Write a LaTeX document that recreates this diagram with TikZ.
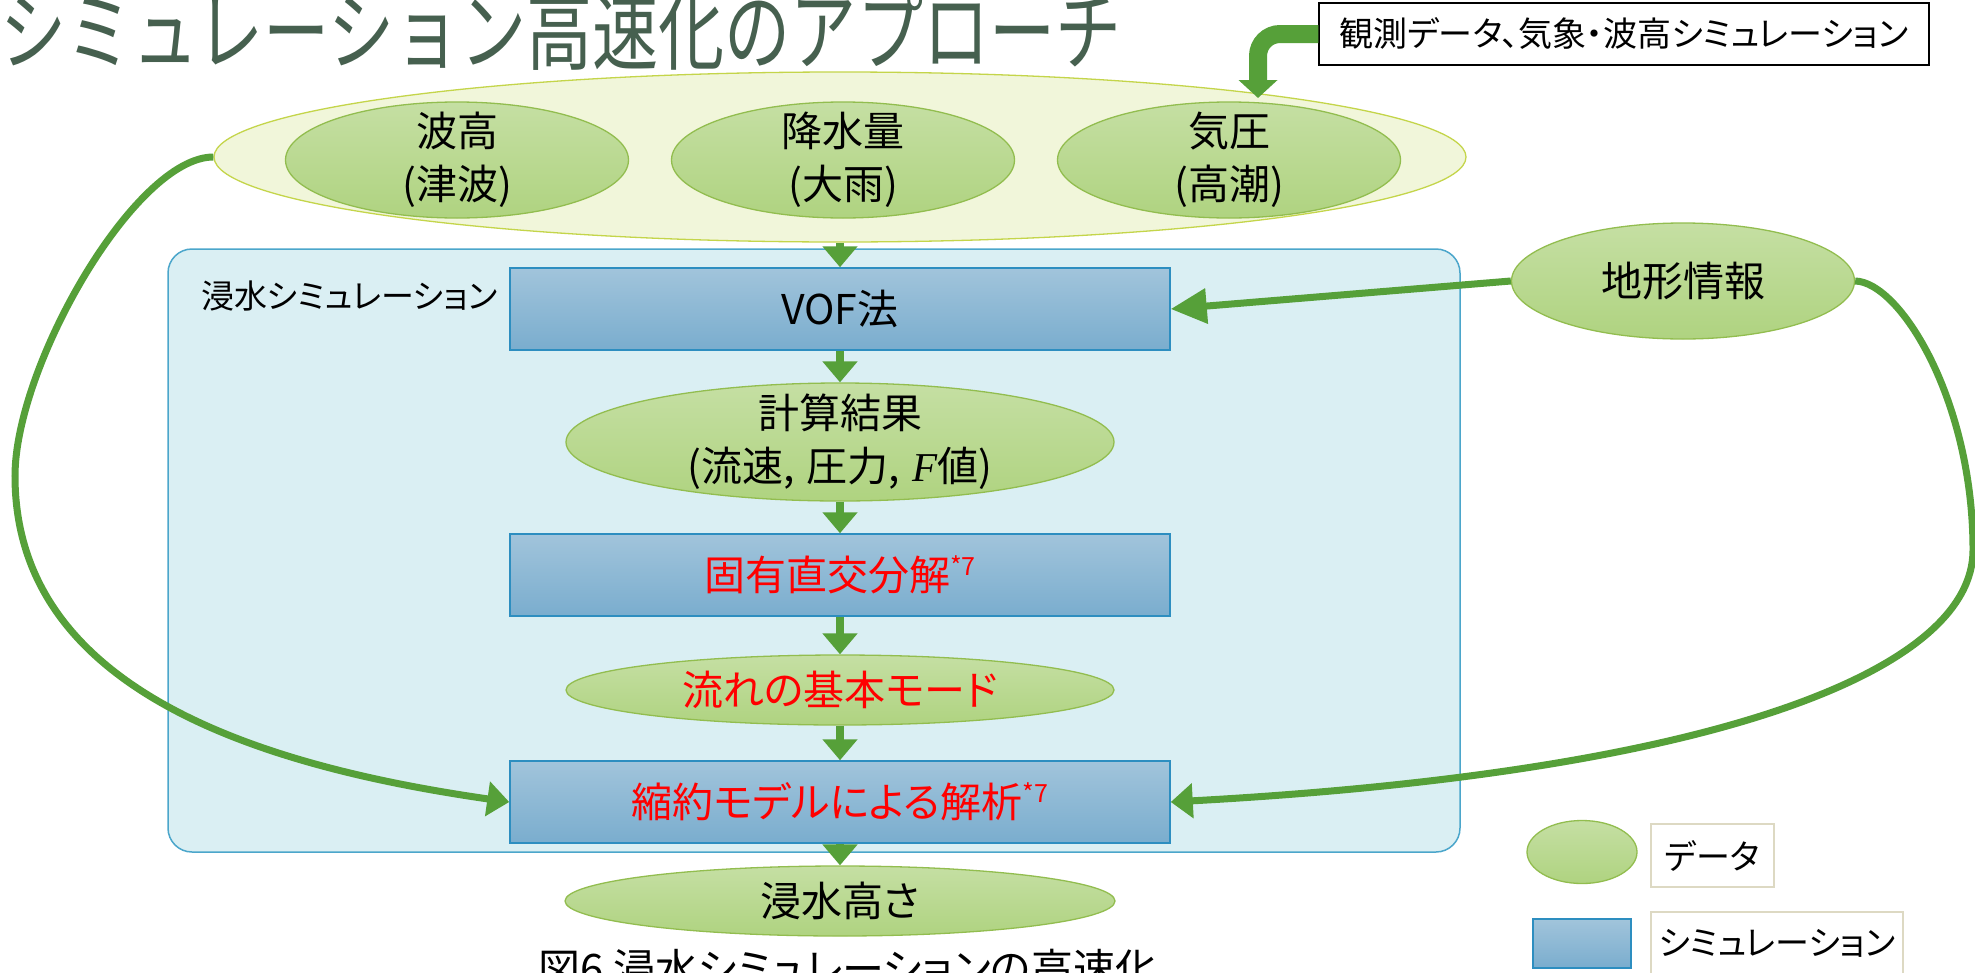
\documentclass[tikz,border=0pt]{standalone}
\usepackage{fontspec}
\setmainfont{Noto Sans CJK JP}[RawFeature={+palt}]
\newfontfamily\titlefont{Noto Sans CJK JP}
\newfontfamily\serfont{Liberation Serif}
\usetikzlibrary{shapes.geometric,arrows.meta}
\definecolor{arrowgreen}{RGB}{86,160,57}
\definecolor{elltop}{RGB}{197,223,163}
\definecolor{ellbot}{RGB}{175,211,128}
\definecolor{ellborder}{RGB}{146,189,79}
\definecolor{outerfill}{RGB}{241,246,218}
\definecolor{outerborder}{RGB}{196,213,74}
\definecolor{areafill}{RGB}{218,239,243}
\definecolor{areaborder}{RGB}{75,166,203}
\definecolor{boxtop}{RGB}{161,196,219}
\definecolor{boxbot}{RGB}{122,173,206}
\definecolor{boxborder}{RGB}{45,142,192}
\definecolor{titlecol}{RGB}{70,96,79}
\definecolor{legborder}{RGB}{221,217,195}
\newcommand\mainsize{\fontsize{41pt}{53pt}\selectfont}
\newcommand\refmark{\raisebox{15pt}{\fontsize{25pt}{25pt}\selectfont *7}}
\begin{document}
\begin{tikzpicture}[x=1pt,y=-1pt,
  dataell/.style={ellipse, draw=ellborder, line width=1.3pt, top color=elltop, bottom color=ellbot, inner sep=0pt},
  simbox/.style={rectangle, draw=boxborder, line width=1.5pt, top color=boxtop, bottom color=boxbot, minimum width=660pt, minimum height=82pt, inner sep=0pt, font=\mainsize},
  txt/.style={align=center, inner sep=0pt, font=\mainsize},
  shortarrow/.style={draw=arrowgreen, line width=8pt, -{Triangle[length=21pt,width=34pt]}},
  longarrow/.style={draw=arrowgreen, line width=7pt, -{Triangle[length=22pt,width=34pt]}},
  bentarrow/.style={draw=arrowgreen, line width=18pt, rounded corners=22pt, -{Triangle[length=18pt,width=38pt]}},
  legbox/.style={rectangle, draw=legborder, line width=1.5pt, minimum height=63pt, inner sep=0pt, font=\fontsize{34pt}{34pt}\selectfont}
]
\useasboundingbox (0,0) rectangle (1975,972);
\clip (0,0) rectangle (1975,972);
\fill[white] (0,0) rectangle (1975,972);

% title
\node[anchor=base west, inner sep=0pt, text=titlecol, font=\titlefont\fontsize{87pt}{87pt}\selectfont] (title) at (0,63) {\scalebox{0.76}[1]{シミュレーション高速化のアプローチ}};

% observation box
\node[draw=black, line width=1.5pt, fill=white, minimum width=610pt, minimum height=62pt, inner sep=0pt, font=\fontsize{34pt}{34pt}\selectfont] (obs) at (1624,34) {観測データ、気象・波高シミュレーション};

% input ellipses
\node[ellipse, draw=outerborder, line width=1.3pt, fill=outerfill, minimum width=1252pt, minimum height=170pt, inner sep=0pt] (inputs) at (840,157) {};
\node[dataell, minimum width=343pt, minimum height=116pt] (wave) at (457,160) {};
\node[txt] (wavet) at (wave) {波高\\(津波)};
\node[dataell, minimum width=343pt, minimum height=116pt] (rain) at (843,160) {};
\node[txt] (raint) at (rain) {降水量\\(大雨)};
\node[dataell, minimum width=343pt, minimum height=116pt] (press) at (1229,160) {};
\node[txt] (presst) at (press) {気圧\\(高潮)};

% simulation area
\draw[draw=areaborder, fill=areafill, line width=1.5pt, rounded corners=24pt] (168,249) rectangle (1460,852);
\node[anchor=west, inner sep=0pt, font=\fontsize{33pt}{33pt}\selectfont] (simlabel) at (201,296) {浸水シミュレーション};

\node[simbox] (vof) at (840,309) {VOF法};
\node[dataell, minimum width=548pt, minimum height=118pt] (kekka) at (840,442) {};
\node[txt] (kekkat) at (kekka) {計算結果\\(流速,\hspace{0.3em}圧力,\hspace{0.3em}{\serfont\itshape F}値)};
\node[simbox, text=red] (pod) at (840,575) {固有直交分解\refmark};
\node[dataell, minimum width=548pt, minimum height=70pt] (mode) at (840,690) {};
\node[txt, text=red] (modet) at (mode) {流れの基本モード};
\node[simbox, text=red] (rom) at (840,802) {縮約モデルによる解析\refmark};
\node[dataell, minimum width=550pt, minimum height=70pt] (height) at (840,901) {};
\node[txt] (heightt) at (height) {浸水高さ};

% terrain
\node[dataell, minimum width=343pt, minimum height=116pt] (chikei) at (1683,281) {};
\node[txt] (chikeit) at (chikei) {地形情報};

% legend
\node[dataell, minimum width=110pt, minimum height=63pt] (legell) at (1582,852) {};
\node[legbox, minimum width=123pt] (legdata) at (1712.5,855.5) {データ};
\node[simbox, minimum width=98pt, minimum height=49pt] (legrect) at (1582,943.5) {};
\node[legbox, minimum width=252pt] (legsim) at (1777,943.5) {シミュレーション};

% caption
\node[anchor=base, inner sep=0pt, font=\fontsize{42pt}{42pt}\selectfont] (caption) at (848,984) {図6 浸水シミュレーションの高速化};

% connectors
\draw[shortarrow] (inputs.south) -- (vof.north);
\draw[shortarrow] (vof.south) -- (kekka.north);
\draw[shortarrow] (kekka.south) -- (pod.north);
\draw[shortarrow] (pod.south) -- (mode.north);
\draw[shortarrow] (mode.south) -- (rom.north);
\draw[shortarrow] (rom.south) -- (height.north);
\draw[longarrow, -{Triangle[length=36pt,width=34pt]}] (chikei.west) -- (vof.east);
\draw[longarrow] (inputs.west) .. controls (135,157) and (15,366) .. (15,476)
   .. controls (15,690) and (259,766) .. (rom.west);
\draw[longarrow] (chikei.east) .. controls (1900,282) and (1973,400) .. (1973,550)
   .. controls (1973,670) and (1719,772) .. (rom.east);
\draw[bentarrow] (obs.west) -- (1258,34) -- (1258,98);
\end{tikzpicture}
\end{document}
